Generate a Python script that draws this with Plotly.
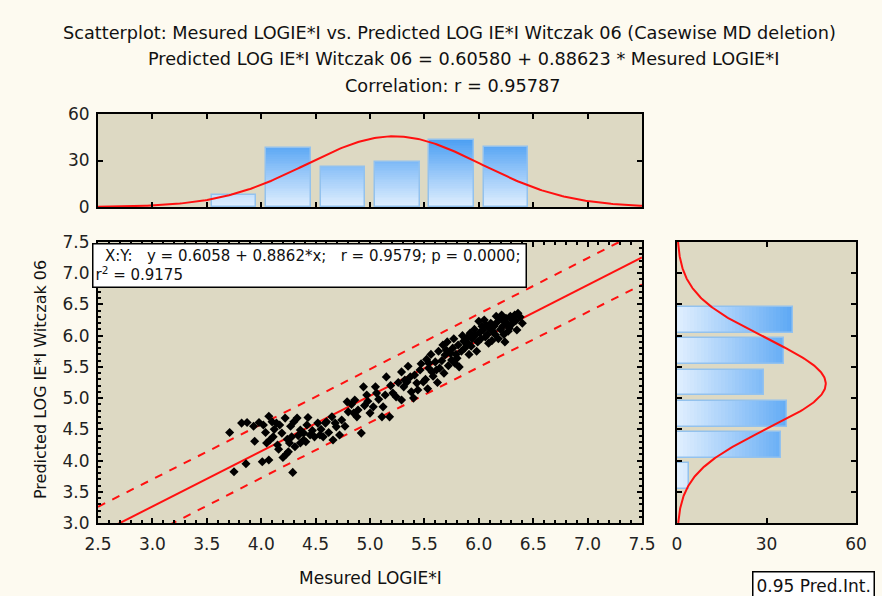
import plotly.graph_objects as go
import numpy as np

# ---------------- data ----------------
x_meas = [3.71, 3.75, 3.82, 3.87, 3.86, 3.94, 3.98, 3.93,
          4.02, 4.07, 4.08, 4.05, 4.10, 4.14, 4.17, 4.16, 4.19, 4.22, 4.25, 4.23,
          4.24, 4.26, 4.28, 4.33, 4.01, 4.07, 4.29, 4.36, 4.39, 4.42, 4.43, 4.36,
          4.39, 4.45, 4.49, 4.04, 4.12, 4.15, 4.20, 4.27, 4.31, 4.34, 4.41, 4.47,
          4.11, 4.30,
          4.54, 4.57, 4.52, 4.59, 4.60, 4.66, 4.72, 4.69, 4.68, 4.79, 4.86, 4.80,
          4.85, 4.89, 4.92, 4.94, 4.97, 4.55, 4.62, 4.65, 4.74, 4.77, 4.83, 4.88,
          4.95, 4.98,
          5.05, 5.06, 5.00, 5.03, 5.11, 5.18, 5.12, 5.21, 5.15, 5.29, 5.35, 5.32,
          5.37, 5.41, 5.43, 5.49, 5.34, 5.31, 5.44, 5.38, 5.24, 5.29, 5.08, 5.14,
          5.19, 5.26, 5.46, 5.40, 5.47,
          5.52, 5.54, 5.54, 5.57, 5.61, 5.64, 5.67, 5.70, 5.74, 5.69, 5.75, 5.80,
          5.78, 5.81, 5.86, 5.89, 5.90, 5.92, 5.97, 5.93, 5.98, 5.51, 5.53, 5.56,
          5.58, 5.60, 5.62, 5.63, 5.66, 5.68, 5.71, 5.72, 5.76, 5.77, 5.79, 5.82,
          5.84, 5.85, 5.87, 5.91, 5.94, 5.96, 5.99,
          6.00, 6.03, 6.04, 6.07, 6.10, 6.13, 6.16, 6.19, 6.09, 6.22, 6.26, 6.29,
          6.33, 6.36, 6.27, 6.35, 6.22, 6.01, 6.02, 6.05, 6.06, 6.08, 6.11, 6.12,
          6.14, 6.15, 6.17, 6.18, 6.20, 6.21, 6.23, 6.24, 6.25, 6.28, 6.30, 6.31,
          6.34, 6.38, 6.40]
y_pred = [4.45, 3.82, 4.60, 4.61, 3.95, 4.31, 4.61, 4.55,
          4.57, 4.71, 4.33, 4.28, 4.62, 4.60, 4.57, 4.18, 4.44, 4.68, 4.14, 4.10,
          4.34, 4.28, 4.38, 4.68, 3.98, 4.01, 3.81, 4.49, 4.44, 4.57, 4.69, 4.28,
          4.33, 4.41, 4.38, 4.45, 4.50, 4.25, 4.05, 4.55, 4.22, 4.40, 4.30, 4.48,
          4.38, 4.62,
          4.41, 4.38, 4.60, 4.60, 4.62, 4.33, 4.41, 4.54, 4.60, 4.94, 4.97, 4.78,
          4.76, 4.81, 4.44, 5.18, 5.05, 4.50, 4.45, 4.70, 4.65, 4.55, 4.90, 4.70,
          4.88, 4.95,
          5.18, 5.08, 4.76, 4.86, 4.70, 4.70, 4.86, 5.08, 5.34, 5.42, 5.51, 5.29,
          5.34, 5.37, 5.24, 5.26, 5.26, 5.18, 5.13, 5.10, 5.02, 4.97, 4.98, 5.05,
          5.20, 5.25, 5.45, 5.00, 5.55,
          5.62, 5.56, 5.48, 5.42, 5.45, 5.48, 5.85, 5.77, 5.72, 5.69, 5.61, 5.64,
          5.56, 5.85, 5.91, 5.96, 5.88, 6.04, 6.01, 5.83, 5.75, 5.30, 5.15, 5.70,
          5.35, 5.58, 5.25, 5.75, 5.60, 5.40, 5.90, 5.52, 5.80, 5.95, 5.70, 5.50,
          5.75, 6.00, 5.80, 5.70, 5.95, 6.10, 5.90,
          6.23, 6.15, 6.09, 6.17, 6.12, 6.07, 6.31, 6.28, 5.88, 6.25, 6.20, 6.31,
          6.33, 6.36, 6.07, 6.09, 6.15, 6.05, 5.95, 6.25, 5.98, 6.02, 6.20, 5.92,
          6.15, 6.02, 6.22, 5.95, 6.10, 6.33, 6.02, 5.90, 6.28, 6.12, 6.18, 6.25,
          6.24, 6.30, 6.20]

bin_centers = [3.75, 4.25, 4.75, 5.25, 5.75, 6.25]
hist_x_counts = [8, 38, 26, 29, 43, 39]
hist_y_counts = [4, 35, 37, 29, 36, 39]

intercept = 0.6058
slope = 0.8862
n_obs = 183
mean_x, sd_x = 5.22, 0.80
mean_y, sd_y = 5.23, 0.72
s_resid = 0.215
bin_w = 0.5

# ---------------- styling ----------------
PAPER = "#FDFAF0"
PLOTBG = "#DDD9C3"
FONT = "DejaVu Sans"
RED = "#FF1010"

fig = go.Figure()

# gradient bars (overlaid levels)
levels = np.linspace(46, 1.0, 40)
def lerp(c1, c2, t):
    return "rgb(%d,%d,%d)" % tuple(int(a + (b - a) * t) for a, b in zip(c1, c2))
light = (228, 241, 255)
dark = (70, 156, 243)
for L in levels:
    col = lerp(light, dark, min(L / 46.0, 1.0))
    fig.add_trace(go.Bar(x=bin_centers, y=[min(c, L) for c in hist_x_counts],
                         width=0.41, marker=dict(color=col, line=dict(width=0)),
                         xaxis="x2", yaxis="y2", showlegend=False, hoverinfo="skip"))
    fig.add_trace(go.Bar(y=bin_centers, x=[min(c, L) for c in hist_y_counts],
                         width=0.41, orientation="h",
                         marker=dict(color=col, line=dict(width=0)),
                         xaxis="x3", yaxis="y3", showlegend=False, hoverinfo="skip"))
fig.add_trace(go.Bar(x=bin_centers, y=hist_x_counts, width=0.41,
                     marker=dict(color="rgba(0,0,0,0)", line=dict(width=1.5, color="#93C2EE")),
                     xaxis="x2", yaxis="y2", showlegend=False))
fig.add_trace(go.Bar(y=bin_centers, x=hist_y_counts, width=0.41, orientation="h",
                     marker=dict(color="rgba(0,0,0,0)", line=dict(width=1.5, color="#93C2EE")),
                     xaxis="x3", yaxis="y3", showlegend=False))

# normal curves
gx = np.linspace(2.5, 7.5, 300)
fx = n_obs * bin_w / (sd_x * np.sqrt(2 * np.pi)) * np.exp(-0.5 * ((gx - mean_x) / sd_x) ** 2)
fig.add_trace(go.Scatter(x=gx, y=fx, mode="lines", line=dict(color=RED, width=2),
                         xaxis="x2", yaxis="y2", showlegend=False))
gy = np.linspace(3.0, 7.5, 300)
fy = 180 * bin_w / (sd_y * np.sqrt(2 * np.pi)) * np.exp(-0.5 * ((gy - mean_y) / sd_y) ** 2)
fig.add_trace(go.Scatter(x=fy, y=gy, mode="lines", line=dict(color=RED, width=2),
                         xaxis="x3", yaxis="y3", showlegend=False))

# regression + prediction interval
lx = np.linspace(2.5, 7.5, 200)
ly = intercept + slope * lx
sxx = (n_obs - 1) * sd_x ** 2
half = 1.973 * s_resid * np.sqrt(1 + 1 / n_obs + (lx - mean_x) ** 2 / sxx)
fig.add_trace(go.Scatter(x=lx, y=ly, mode="lines", line=dict(color=RED, width=2),
                         showlegend=False))
fig.add_trace(go.Scatter(x=lx, y=ly + half, mode="lines",
                         line=dict(color=RED, width=2, dash="8px,8px"), showlegend=False))
fig.add_trace(go.Scatter(x=lx, y=ly - half, mode="lines",
                         line=dict(color=RED, width=2, dash="8px,8px"), showlegend=False))

fig.add_trace(go.Scatter(x=x_meas, y=y_pred, mode="markers",
                         marker=dict(symbol="diamond", size=7, color="black"),
                         showlegend=False))

W, H = 882, 596
def px_x(p): return p / W
def px_y(p): return 1 - p / H

axis_common = dict(showline=True, linecolor="black", linewidth=2, mirror="ticks",
                   ticks="inside", tickcolor="black", ticklen=5, tickwidth=1.5,
                   showgrid=False, zeroline=False, automargin=False,
                   tickfont=dict(family=FONT, size=17, color="#222"))

main_xd = [px_x(98), px_x(642)]
main_yd = [px_y(523), px_y(242)]

fig.update_layout(
    template="none",
    width=W, height=H, margin=dict(l=0, r=0, t=0, b=0, pad=0, autoexpand=False),
    paper_bgcolor=PAPER, plot_bgcolor=PLOTBG, barmode="overlay", bargap=0,
    font=dict(family=FONT, color="#222"), showlegend=False,
    xaxis=dict(domain=main_xd, range=[2.5, 7.5], dtick=0.5, tickformat=".1f",
               minor=dict(dtick=0.1, ticks="inside", ticklen=3, tickcolor="black"),
               anchor="y", ticklabelstandoff=5, **axis_common),
    yaxis=dict(domain=main_yd, range=[3.0, 7.5], dtick=0.5, tickformat=".1f",
               minor=dict(dtick=0.1, ticks="inside", ticklen=3, tickcolor="black"),
               anchor="x", ticklabelstandoff=3, **axis_common),
    xaxis2=dict(domain=main_xd, range=[2.5, 7.5], dtick=0.5, showticklabels=False,
                anchor="y2", **axis_common),
    yaxis2=dict(domain=[px_y(207), px_y(114)], range=[0, 60], dtick=30,
                anchor="x2", ticklabelstandoff=3, **axis_common),
    xaxis3=dict(domain=[px_x(677), px_x(856)], range=[0, 60], dtick=30,
                anchor="y3", ticklabelstandoff=5, **axis_common),
    yaxis3=dict(domain=main_yd, range=[3.0, 7.5], dtick=0.5, showticklabels=False,
                anchor="x3", **axis_common),
)

titles = ["Scatterplot: Mesured LOGIE*I vs. Predicted LOG IE*I Witczak 06 (Casewise MD deletion)",
          "Predicted LOG IE*I Witczak 06 = 0.60580 + 0.88623 * Mesured LOGIE*I",
          "Correlation: r = 0.95787"]
for t, xp, yp in zip(titles, [449, 463, 453], [33, 59, 86]):
    fig.add_annotation(text=t, x=px_x(xp), y=px_y(yp), xref="paper", yref="paper",
                       showarrow=False, xanchor="center", yanchor="middle",
                       font=dict(family=FONT, size=17.7, color="#111"))

fig.add_annotation(text="Mesured LOGIE*I", x=px_x(370), y=px_y(578), xref="paper", yref="paper",
                   showarrow=False, xanchor="center", yanchor="middle",
                   font=dict(family=FONT, size=17, color="#111"))
fig.add_annotation(text="Predicted LOG IE*I Witczak 06", x=px_x(40), y=px_y(380),
                   xref="paper", yref="paper", showarrow=False, textangle=-90,
                   xanchor="center", yanchor="middle",
                   font=dict(family=FONT, size=16, color="#111"))

fig.add_annotation(text="  X:Y:   y = 0.6058 + 0.8862*x;   r = 0.9579; p = 0.0000;<br>r<sup>2</sup> = 0.9175",
                   x=px_x(92), y=px_y(243), xref="paper", yref="paper", showarrow=False,
                   xanchor="left", yanchor="top", align="left", bgcolor="white",
                   bordercolor="black", borderwidth=1.5, borderpad=2, width=428,
                   font=dict(family=FONT, size=15, color="#111"))

fig.add_annotation(text="0.95 Pred.Int.", x=px_x(752), y=px_y(571), xref="paper", yref="paper",
                   showarrow=False, xanchor="left", yanchor="top", bgcolor="white",
                   bordercolor="black", borderwidth=1.5, borderpad=3,
                   font=dict(family=FONT, size=17, color="#111"))

fig.write_html("out.html")
